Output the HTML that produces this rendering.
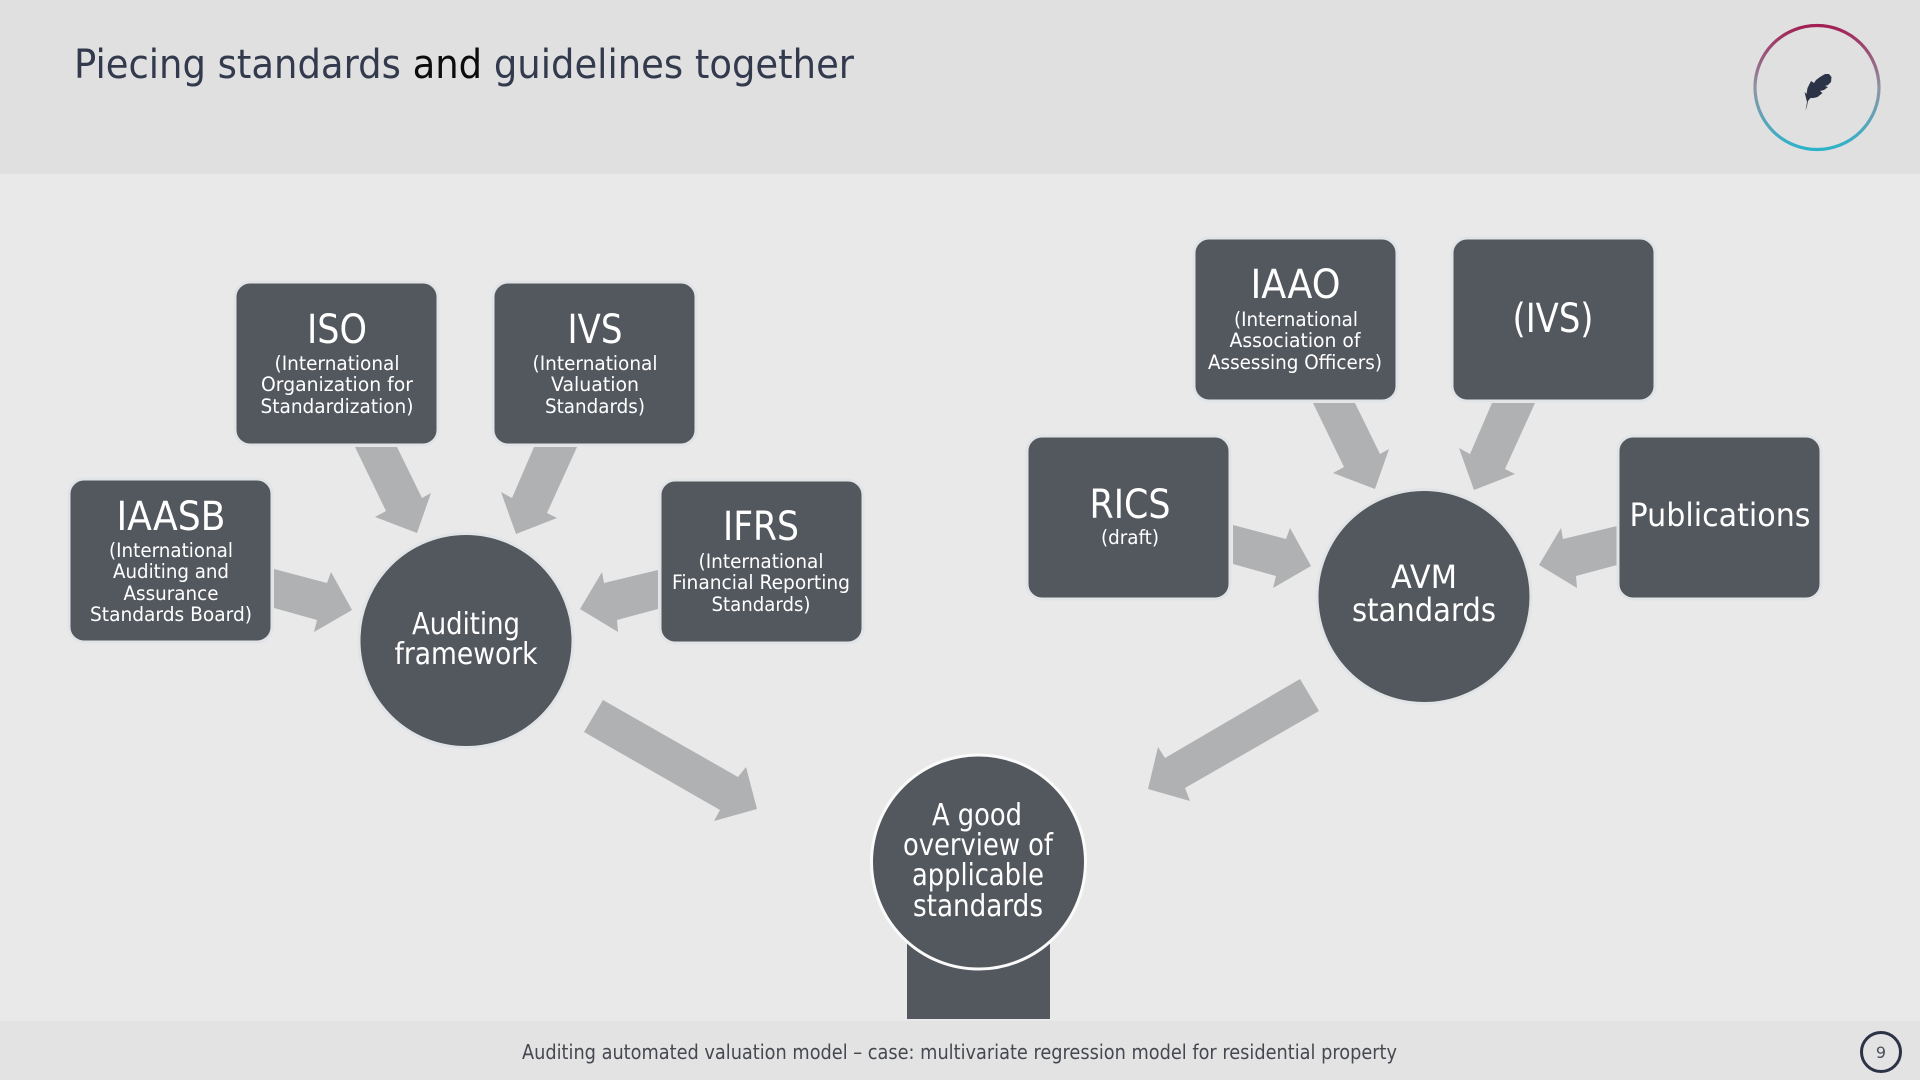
<!DOCTYPE html>
<html><head><meta charset="utf-8"><title>Piecing standards and guidelines together</title>
<style>
html,body{margin:0;padding:0;background:#e9e9e9;width:1920px;height:1080px;overflow:hidden}
svg{display:block}
text{font-family:"DejaVu Sans","Liberation Sans",sans-serif;text-anchor:middle;fill:#fff}
.h{font-size:40px}
.s{font-size:19.5px}
.c{font-size:30px}
.b{fill:#53575e;stroke:#e1e4e7;stroke-width:3}
.a{fill:#b0b1b3}
</style></head><body>
<svg width="1920" height="1080" viewBox="0 0 1920 1080" xmlns="http://www.w3.org/2000/svg">
<defs><linearGradient id="g" x1="0" y1="0" x2="0" y2="1"><stop offset="0" stop-color="#a31f55"/><stop offset=".5" stop-color="#8f94a3"/><stop offset="1" stop-color="#2cb3c9"/></linearGradient></defs>
<rect width="1920" height="1080" fill="#e9e9e9"/>
<rect width="1920" height="174" fill="#e0e0e0"/>
<rect y="1021" width="1920" height="59" fill="#e3e3e3"/>
<text x="74" y="78" font-size="40" style="text-anchor:start;fill:#333a4d" textLength="780" lengthAdjust="spacingAndGlyphs">Piecing standards <tspan fill="#0c0c0c">and</tspan> guidelines together</text>
<circle cx="1817" cy="87.500" r="62" fill="none" stroke="url(#g)" stroke-width="3.200"/>
<path fill="#2d3347" d="M1805.500 111l1.500-9-2.500-10 2 2 1-6 3.500-7 3 2 2-3 4-3 5-3 4 0 2.500 3-.5 5-3 3-3 1 3 1-4 3-4 1 2.500 2-5 4-4 1-3 0-2.500 3-1 5z"/>
<polygon class="a" points="355,447 397,447 422,498 431,493 417,533 375,517 386,511"/>
<polygon class="a" points="534,447 577,447 547,513 557,518 516,534 501,492 512,498"/>
<polygon class="a" points="274,569 274,608 317,620 314,632 352,610 331,572 327,583"/>
<polygon class="a" points="658,570 658,609 617,620 618,632 580,609 602,572 604,583"/>
<polygon class="a" transform="translate(958,-44)" points="355,447 397,447 422,498 431,493 417,533 375,517 386,511"/>
<polygon class="a" transform="translate(958,-44)" points="534,447 577,447 547,513 557,518 516,534 501,492 512,498"/>
<polygon class="a" transform="translate(959,-44)" points="274,569 274,608 317,620 314,632 352,610 331,572 327,583"/>
<polygon class="a" transform="translate(959,-44)" points="658,570 658,609 617,620 618,632 580,609 602,572 604,583"/>
<polygon class="a" points="603,700 738,777 746,767 757,809 714,821 720,810 584,732"/>
<polygon class="a" points="1300,679 1319,711 1185,788 1190,801 1148,789 1158,747 1165,758"/>
<rect x="235" y="282" width="203" height="163" rx="15" class="b"/>
<rect x="493" y="282" width="203" height="163" rx="15" class="b"/>
<rect x="69" y="479" width="203" height="163" rx="15" class="b"/>
<rect x="660" y="480" width="203" height="163" rx="15" class="b"/>
<rect x="1194" y="238" width="203" height="163" rx="15" class="b"/>
<rect x="1452" y="238" width="203" height="163" rx="15" class="b"/>
<rect x="1027" y="436" width="203" height="163" rx="15" class="b"/>
<rect x="1618" y="436" width="203" height="163" rx="15" class="b"/>
<circle cx="466" cy="640.500" r="107" class="b"/>
<circle cx="1424" cy="596.500" r="107" class="b"/>
<rect x="907" y="900" width="143" height="119" fill="#53575e"/>
<circle cx="978.500" cy="862" r="107" fill="#53575e" stroke="#fafafa" stroke-width="3"/>
<text class="h" x="337" y="343" textLength="60" lengthAdjust="spacingAndGlyphs">ISO</text>
<text class="s" x="337" y="370" textLength="125" lengthAdjust="spacingAndGlyphs">(International</text>
<text class="s" x="337" y="391" textLength="152" lengthAdjust="spacingAndGlyphs">Organization for</text>
<text class="s" x="337" y="413" textLength="153" lengthAdjust="spacingAndGlyphs">Standardization)</text>
<text class="h" x="595" y="343" textLength="55" lengthAdjust="spacingAndGlyphs">IVS</text>
<text class="s" x="595" y="370" textLength="125" lengthAdjust="spacingAndGlyphs">(International</text>
<text class="s" x="595" y="391" textLength="88" lengthAdjust="spacingAndGlyphs">Valuation</text>
<text class="s" x="595" y="413" textLength="100" lengthAdjust="spacingAndGlyphs">Standards)</text>
<text class="h" x="171" y="530" textLength="109" lengthAdjust="spacingAndGlyphs">IAASB</text>
<text class="s" x="171" y="557" textLength="124" lengthAdjust="spacingAndGlyphs">(International</text>
<text class="s" x="171" y="578" textLength="116" lengthAdjust="spacingAndGlyphs">Auditing and</text>
<text class="s" x="171" y="600" textLength="95" lengthAdjust="spacingAndGlyphs">Assurance</text>
<text class="s" x="171" y="621" textLength="162" lengthAdjust="spacingAndGlyphs">Standards Board)</text>
<text class="h" x="761" y="540" textLength="76" lengthAdjust="spacingAndGlyphs">IFRS</text>
<text class="s" x="761" y="568" textLength="125" lengthAdjust="spacingAndGlyphs">(International</text>
<text class="s" x="761" y="589" textLength="178" lengthAdjust="spacingAndGlyphs">Financial Reporting</text>
<text class="s" x="761" y="611" textLength="99" lengthAdjust="spacingAndGlyphs">Standards)</text>
<text class="h" x="1295.500" y="298" textLength="90" lengthAdjust="spacingAndGlyphs">IAAO</text>
<text class="s" x="1296" y="326" textLength="124" lengthAdjust="spacingAndGlyphs">(International</text>
<text class="s" x="1295" y="347" textLength="131" lengthAdjust="spacingAndGlyphs">Association of</text>
<text class="s" x="1295" y="369" textLength="174" lengthAdjust="spacingAndGlyphs">Assessing Officers)</text>
<text class="h" x="1553" y="332" textLength="81" lengthAdjust="spacingAndGlyphs">(IVS)</text>
<text class="h" x="1130" y="518" textLength="81" lengthAdjust="spacingAndGlyphs">RICS</text>
<text class="s" x="1130" y="544" textLength="58" lengthAdjust="spacingAndGlyphs">(draft)</text>
<text x="1720" y="526" font-size="32" textLength="181" lengthAdjust="spacingAndGlyphs">Publications</text>
<text class="c" x="466" y="634" textLength="108" lengthAdjust="spacingAndGlyphs">Auditing</text>
<text class="c" x="466" y="664" textLength="143" lengthAdjust="spacingAndGlyphs">framework</text>
<text x="1424" y="588" font-size="32" textLength="66" lengthAdjust="spacingAndGlyphs">AVM</text>
<text x="1424" y="621" font-size="32" textLength="144" lengthAdjust="spacingAndGlyphs">standards</text>
<text class="c" x="977" y="825" textLength="90" lengthAdjust="spacingAndGlyphs">A good</text>
<text class="c" x="978" y="855" textLength="150" lengthAdjust="spacingAndGlyphs">overview of</text>
<text class="c" x="978" y="885" textLength="132" lengthAdjust="spacingAndGlyphs">applicable</text>
<text class="c" x="978" y="916" textLength="130" lengthAdjust="spacingAndGlyphs">standards</text>
<text x="959.500" y="1059" font-size="20" style="fill:#45494f" textLength="875" lengthAdjust="spacingAndGlyphs">Auditing automated valuation model – case: multivariate regression model for residential property</text>
<circle cx="1881" cy="1052" r="19.500" fill="none" stroke="#2d3347" stroke-width="3"/>
<text x="1881" y="1058" font-size="16" style="fill:#4a4f5c">9</text>
</svg>
</body></html>
